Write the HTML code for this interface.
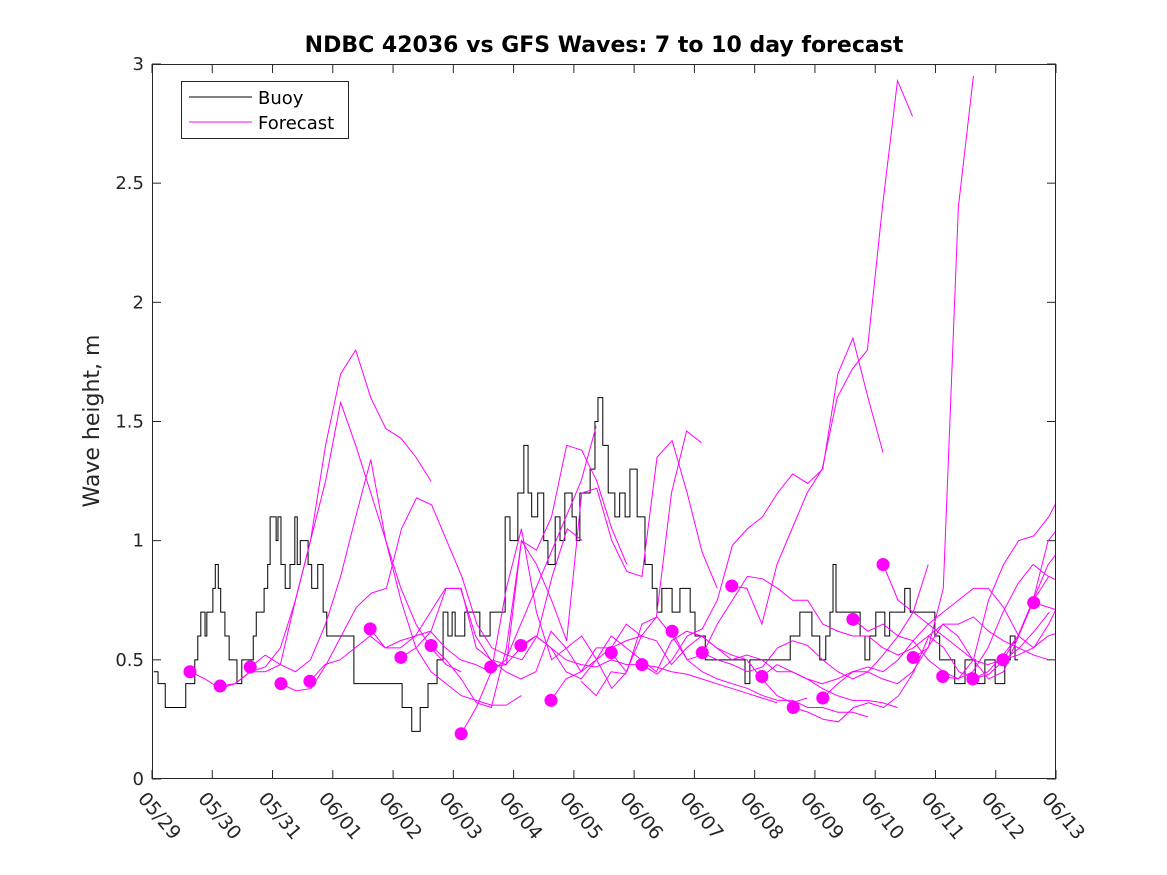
<!DOCTYPE html>
<html><head><meta charset="utf-8"><style>
body{margin:0;background:#fff;}
svg{display:block;font-family:"DejaVu Sans","Liberation Sans",sans-serif;}
</style></head><body>
<svg id="chart" width="1167" height="875" viewBox="0 0 1167 875" xmlns="http://www.w3.org/2000/svg">
<rect width="1167" height="875" fill="#fff"/>
<defs><clipPath id="clip"><rect x="152" y="64" width="904" height="715"/></clipPath></defs>
<text x="604" y="52" text-anchor="middle" font-size="22" font-weight="bold" fill="#000">NDBC 42036 vs GFS Waves: 7 to 10 day forecast</text>
<text transform="translate(99,421) rotate(-90)" text-anchor="middle" font-size="22" fill="#262626">Wave height, m</text>
<g id="axes"></g>
<g id="plot" clip-path="url(#clip)"></g>
<rect x="152.5" y="64.5" width="903" height="714" fill="none" stroke="#262626" stroke-width="1"/>
<g>
<rect x="181.5" y="81.5" width="167" height="57" fill="#fff" stroke="#262626"/>
<line x1="189" y1="97" x2="252" y2="97" stroke="#000"/>
<text x="258" y="104" font-size="18" fill="#000">Buoy</text>
<line x1="189" y1="122" x2="252" y2="122" stroke="#f0f"/>
<text x="258" y="129" font-size="18" fill="#000">Forecast</text>
</g>
</svg>
<script>
const xTickLabels=["05/29","05/30","05/31","06/01","06/02","06/03","06/04","06/05","06/06","06/07","06/08","06/09","06/10","06/11","06/12","06/13"];
const yTicks=[0,0.5,1,1.5,2,2.5,3];
const buoyDays=[0.03,0.10,0.22,0.55,0.56,0.63,0.71,0.76,0.81,0.88,0.91,0.96,1.01,1.05,1.10,1.14,1.21,1.28,1.38,1.41,1.49,1.63,1.68,1.73,1.86,1.92,1.96,2.06,2.09,2.14,2.21,2.29,2.37,2.41,2.46,2.59,2.65,2.75,2.84,2.90,3.12,3.35,4.11,4.15,4.31,4.45,4.58,4.73,4.83,4.91,4.98,5.03,5.19,5.44,5.61,5.77,5.86,5.94,6.07,6.17,6.24,6.30,6.40,6.50,6.57,6.69,6.77,6.85,6.97,7.04,7.10,7.27,7.35,7.40,7.48,7.57,7.68,7.76,7.85,7.93,8.05,8.18,8.30,8.38,8.46,8.63,8.76,8.93,9.01,9.18,9.76,9.84,9.92,10.42,10.59,10.75,10.95,11.08,11.18,11.25,11.30,11.35,11.42,11.58,11.75,11.83,11.91,12.01,12.16,12.24,12.41,12.49,12.58,12.99,13.07,13.24,13.32,13.49,13.66,13.82,13.99,14.15,14.24,14.32];
const buoyVals=[0.45,0.4,0.3,0.3,0.4,0.4,0.5,0.6,0.7,0.6,0.7,0.7,0.8,0.9,0.8,0.7,0.6,0.5,0.5,0.4,0.5,0.5,0.6,0.7,0.8,0.9,1.1,1.0,1.1,0.9,0.8,0.9,1.1,0.9,1.0,0.9,0.8,0.9,0.7,0.6,0.6,0.4,0.4,0.3,0.2,0.3,0.4,0.5,0.7,0.6,0.7,0.6,0.7,0.6,0.7,0.7,1.1,1.0,1.2,1.4,1.2,1.1,1.2,1.0,0.9,1.1,1.0,1.2,1.1,1.0,1.2,1.3,1.5,1.6,1.4,1.2,1.1,1.2,1.1,1.3,1.1,0.9,0.8,0.7,0.8,0.7,0.8,0.7,0.6,0.5,0.5,0.4,0.5,0.5,0.6,0.7,0.6,0.5,0.6,0.7,0.9,0.7,0.7,0.7,0.6,0.5,0.6,0.7,0.6,0.7,0.7,0.8,0.7,0.6,0.5,0.5,0.4,0.5,0.4,0.5,0.4,0.5,0.6,0.5];
const fcStep=0.25;
const fcStarts=[0.63,1.13,1.63,2.14,2.62,3.62,4.13,4.63,5.13,5.62,6.12,6.62,7.12,7.62,8.13,8.63,9.13,9.62,10.12,10.64,11.13,11.63,12.13,12.63,13.12,13.62,14.12,14.63];
const fcVals=[
[0.45,0.42,0.38,0.40,0.45,0.45,0.48,0.75,1.0,1.4,1.7,1.8,1.6,1.47,1.43,1.35,1.25],
[0.39,0.40,0.45,0.47,0.55,0.75,1.0,1.25,1.58,1.4,1.2,1.0,0.8,0.65,0.55,0.48,0.45],
[0.47,0.52,0.48,0.45,0.50,0.65,0.85,1.1,1.34,1.0,0.75,0.55,0.45,0.40,0.35,0.33,0.31,0.31,0.35],
[0.40,0.37,0.38,0.48,0.60,0.72,0.78,0.80,1.05,1.18,1.15,1.0,0.85,0.65,0.55,0.52,0.50,0.60,0.85,1.05,1.0],
[0.41,0.48,0.50,0.55,0.60,0.55,0.58,0.60,0.70,0.80,0.80,0.6,0.5,0.45,0.42,0.45,0.62,0.55,0.45,0.5,0.55,0.65,0.6],
[0.63,0.55,0.55,0.60,0.62,0.55,0.50,0.48,0.45,0.50,0.65,0.80,0.95,1.10,1.25,1.48],
[0.51,0.55,0.62,0.80,0.80,0.55,0.50,0.48,1.0,0.96,1.1,1.4,1.38,1.25,1.05,0.9],
[0.56,0.5,0.42,0.32,0.30,0.55,1.0,0.90,0.75,0.58,1.2,1.22,1.0,0.87,0.85,1.35,1.42,1.2,0.95,0.8],
[0.19,0.30,0.45,0.8,1.05,0.7,0.5,0.55,0.6,0.5,0.38,0.45,0.65,0.68,0.6,0.5,0.45,0.42,0.4,0.38,0.35,0.33,0.33,0.30,0.30,0.28,0.28,0.26],
[0.47,0.48,0.55,0.6,0.55,0.5,0.48,0.47,0.5,0.48,0.48,0.47,0.45,0.44,0.42,0.40,0.38,0.36,0.34,0.32],
[0.56,0.6,0.55,0.45,0.42,0.5,0.6,0.55,0.5,0.45,0.58,0.62,0.60,0.55,0.52,0.5,0.42,0.35,0.32,0.34],
[0.33,0.42,0.45,0.55,0.55,0.58,0.6,0.58,0.48,0.55,0.60,0.55,0.50,0.52,0.50,0.45,0.45,0.42,0.38,0.35,0.33,0.33,0.32,0.3],
[0.41,0.35,0.45,0.44],
[0.53,0.45,0.6,0.68,1.2,1.46,1.41],
[0.48,0.44,0.5,0.6,0.63,0.75,0.98,1.05,1.1,1.2,1.28,1.24,1.3,1.7,1.85,1.6,1.37],
[0.62,0.5,0.52,0.65,0.75,0.85,0.84,0.80,0.75,0.75,0.65,0.62,0.6,0.6,0.55,0.52,0.55,0.60,0.65,0.65,0.68,0.62,0.58,0.55,0.52,0.50],
[0.53,0.5,0.48,0.45,0.47,0.55,0.58,0.56,0.50,0.45,0.42,0.45,0.52,0.6,0.7,0.9],
[0.81,0.80,0.65,0.90,1.05,1.2,1.3,1.6,1.72,1.8,2.4,2.93,2.78],
[0.43,0.48,0.45,0.42,0.4,0.42,0.45,0.45,0.42,0.40,0.45,0.55,0.65,0.60,0.50,0.48,0.50,0.52,0.55,0.6,0.62],
[0.30,0.28,0.25,0.24,0.30,0.32,0.30,0.35,0.45,0.60,0.55,0.45,0.42,0.44,0.5,0.55,0.62,0.70],
[0.34,0.40,0.45,0.47,0.45,0.5,0.58,0.65,0.70,0.75,0.8,0.8,0.72,0.6,0.55,0.65,0.78,0.85,0.88],
[0.67,0.62,0.65,0.60,0.58,0.50,0.45,0.42,0.5,0.75,0.9,1.0,1.02,1.1,1.22,1.5,1.56,1.6],
[0.9,0.75,0.7,0.65,0.6,0.55,0.5,0.42,0.45,0.6,0.75,0.85,0.82,0.8,0.78,0.72,0.70],
[0.51,0.55,0.8,2.4,2.95],
[0.43,0.42,0.45,0.55,0.7,0.82,0.9,0.85],
[0.42,0.45,0.52,0.6,0.75,1.0,1.08,1.08],
[0.5,0.6,0.75,0.9,0.98],
[0.74,0.72,0.70]
];
const NS="http://www.w3.org/2000/svg";
const X0=152,X1=1056,Y0=779,Y1=64;
const xs=d=>X0+(X1-X0)*d/15;
const ys=v=>Y0-(Y0-Y1)*v/3;
function mk(t,a,p){const e=document.createElementNS(NS,t);for(const k in a)e.setAttribute(k,a[k]);p.appendChild(e);return e;}
const axes=document.getElementById('axes'),plot=document.getElementById('plot');
xTickLabels.forEach((l,i)=>{
  const x=xs(i);
  const t1=mk('line',{x1:x,y1:Y0,x2:x,y2:Y0-9,stroke:'#262626'},axes);
  
  
  mk('line',{x1:x,y1:Y1,x2:x,y2:Y1+9,stroke:'#262626'},axes);
  const t=mk('text',{transform:`translate(${x-15},${Y0+20}) rotate(50)`,'font-size':19,fill:'#262626'},axes);
  t.textContent=l;
  
  
});
yTicks.forEach(v=>{
  const y=ys(v);
  mk('line',{x1:X0,y1:y,x2:X0+9,y2:y,stroke:'#262626'},axes);
  mk('line',{x1:X1,y1:y,x2:X1-9,y2:y,stroke:'#262626'},axes);
  const t=mk('text',{x:X0-8,y:y+6,'text-anchor':'end','font-size':18,fill:'#262626'},axes);
  t.textContent=String(v);
  
  
});
let d='';
buoyDays.forEach((dd,i)=>{
  if(i===0)d+=`M${xs(dd)},${ys(buoyVals[i])}`;
  else d+=`H${xs(dd)}V${ys(buoyVals[i])}`;
});
d+=`H${xs(buoyDays[buoyDays.length-1]+0.05)}`;
const bp=mk('path',{d:d,fill:'none',stroke:'#000','stroke-width':1},plot);


fcVals.forEach((vals,k)=>{
  const pts=vals.map((v,i)=>`${xs(fcStarts[k]+i*fcStep)},${ys(v)}`).join(' ');
  const pl=mk('polyline',{points:pts,fill:'none',stroke:'#f0f','stroke-width':1},plot);
  
  
});
fcVals.forEach((vals,k)=>{
  if(k===12)return;
  const c=mk('circle',{cx:xs(fcStarts[k]),cy:ys(vals[0]),r:6.5,fill:'#f0f'},plot);
  
  
});
</script>
</body></html>
